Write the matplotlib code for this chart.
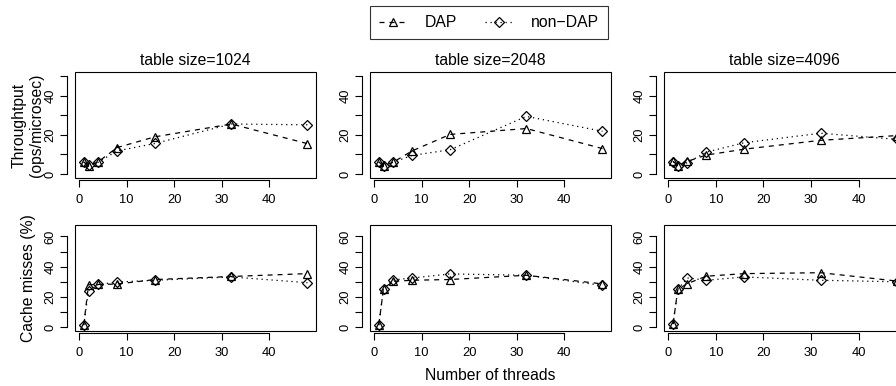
import matplotlib
matplotlib.use('Agg')
import matplotlib.pyplot as plt
from matplotlib.patches import Rectangle
from matplotlib.lines import Line2D

plt.rcParams['font.family'] = ['Liberation Sans', 'DejaVu Sans']

# 데이터
threads = [1, 2, 4, 8, 16, 32, 48]
table_sizes = [1024, 2048, 4096]

tput_dap = [
    [6.2, 4.3, 6.2, 13.5, 19.0, 25.5, 15.5],
    [6.2, 4.3, 6.0, 11.8, 20.2, 23.2, 13.0],
    [6.5, 4.3, 6.5, 9.7, 12.7, 17.2, 19.6],
]
tput_nondap = [
    [6.0, 4.5, 6.0, 11.8, 15.6, 25.5, 25.1],
    [6.2, 4.2, 6.0, 9.5, 12.4, 29.4, 21.8],
    [6.4, 4.2, 5.8, 11.2, 16.0, 20.8, 17.7],
]
cache_dap = [
    [1.3, 28.0, 28.2, 28.5, 31.5, 33.5, 35.4],
    [1.3, 25.5, 30.3, 31.0, 31.5, 34.3, 28.6],
    [2.0, 24.9, 28.8, 33.7, 35.4, 36.0, 30.5],
]
cache_nondap = [
    [1.3, 24.2, 28.2, 29.8, 31.0, 33.2, 29.4],
    [1.3, 25.5, 31.2, 32.5, 35.2, 34.3, 27.6],
    [2.0, 24.9, 32.5, 31.0, 33.2, 31.0, 30.0],
]

W, H = 896, 386
fig = plt.figure(figsize=(W / 100, H / 100), dpi=100)

col_left = [74.8, 369.8, 664.1]
ax_w = 241.6
rows = [(72, 178), (225, 331)]   # 픽셀 기준 (위, 아래)
ylims = [(-2, 52), (-2.6, 67.6)]
yticks = [[0, 10, 20, 30, 40, 50], [0, 10, 20, 30, 40, 50, 60]]
ylabs = [[0, 20, 40], [0, 20, 40, 60]]


def style_axis(ax, r):
    for s in ax.spines.values():
        s.set_visible(False)
    ax.add_patch(Rectangle((0, 0), 1, 1, transform=ax.transAxes, fill=False,
                           lw=0.8, ec='black', clip_on=False, zorder=5))
    ax.spines['left'].set_visible(True)
    ax.spines['bottom'].set_visible(True)
    ax.spines['left'].set_position(('outward', 5.6))
    ax.spines['bottom'].set_position(('outward', 1.5))
    ax.spines['left'].set_linewidth(0.8)
    ax.spines['bottom'].set_linewidth(0.8)
    ax.set_xlim(-0.88, 49.88)
    ax.set_ylim(*ylims[r])
    ax.set_xticks([0, 10, 20, 30, 40])
    ax.set_yticks(yticks[r])
    ax.set_yticklabels([str(v) if v in ylabs[r] else '' for v in yticks[r]],
                       rotation=90, va='center')
    ax.spines['bottom'].set_bounds(0, 40)
    ax.spines['left'].set_bounds(yticks[r][0], yticks[r][-1])
    ax.tick_params(axis='both', direction='out', length=5.2, width=0.8,
                   labelsize=9.3)
    ax.tick_params(axis='x', pad=5)
    ax.tick_params(axis='y', pad=2.5)


for c in range(3):
    for r in range(2):
        top, bot = rows[r]
        ax = fig.add_axes([col_left[c] / W, (H - bot) / H, ax_w / W, (bot - top) / H])
        style_axis(ax, r)
        if r == 0:
            d1, d2 = tput_dap[c], tput_nondap[c]
            ax.set_title('table size=%d' % table_sizes[c], fontsize=11.3, pad=5)
        else:
            d1, d2 = cache_dap[c], cache_nondap[c]
        ax.plot(threads, d1, ls=(0, (4, 4)), lw=0.9, color='black', marker='^',
                ms=6, mfc='none', mec='black', mew=0.9, clip_on=False)
        ax.plot(threads, d2, ls=(0, (1, 3)), lw=0.9, color='black', marker='D',
                ms=5.5, mfc='none', mec='black', mew=0.9, clip_on=False)

fig.text(28 / W, 1 - 125 / H, 'Throughtput\n(ops/microsec)', rotation=90,
         ha='center', va='center', fontsize=11.3, linespacing=1.2)
fig.text(28 / W, 1 - 278 / H, 'Cache misses (%)', rotation=90,
         ha='center', va='center', fontsize=11.3)
fig.text(490.6 / W, 1 - 375 / H, 'Number of threads', ha='center',
         va='center', fontsize=11.3)

handles = [
    Line2D([], [], ls=(0, (4, 4)), lw=0.9, color='black', marker='^', ms=6,
           mfc='none', mec='black', mew=0.9),
    Line2D([], [], ls=(0, (1, 3)), lw=0.9, color='black', marker='D', ms=5.5,
           mfc='none', mec='black', mew=0.9),
]
leg = fig.legend(handles, ['DAP', 'non\u2212DAP'], loc='center',
                 bbox_to_anchor=(489 / W, 1 - 22.5 / H), ncol=2,
                 fontsize=11.3, frameon=True, fancybox=False,
                 edgecolor='black', handlelength=1.8, handletextpad=1.1,
                 columnspacing=1.8, borderpad=0.6, borderaxespad=0)
leg.get_frame().set_linewidth(0.8)

fig.savefig('out.png', dpi=100)
